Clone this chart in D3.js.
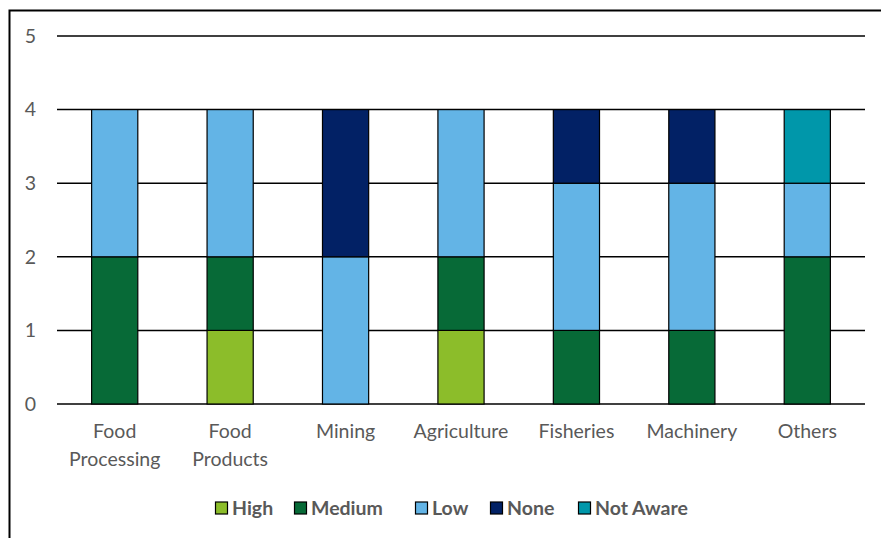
<!DOCTYPE html>
<html>
<head>
<meta charset="utf-8">
<script src="https://cdn.jsdelivr.net/npm/d3@7"></script>
<style>
  html, body { margin: 0; padding: 0; background: #fff; }
  svg { display: block; font-family: Lato, "Open Sans", sans-serif; }
</style>
</head>
<body>
<svg id="chart" width="881" height="538"></svg>
<script>
// Sectors and their response counts per awareness level
const categories = [["Food", "Processing"], ["Food", "Products"], ["Mining"], ["Agriculture"], ["Fisheries"], ["Machinery"], ["Others"]];
const seriesNames = ["High", "Medium", "Low", "None", "Not Aware"];
const high     = [0, 1, 0, 1, 0, 0, 0];
const medium   = [2, 1, 0, 1, 1, 1, 2];
const low      = [2, 2, 2, 2, 2, 2, 1];
const none     = [0, 0, 2, 0, 1, 1, 0];
const notAware = [0, 0, 0, 0, 0, 0, 1];
const yTicks = [0, 1, 2, 3, 4, 5];
const colors = ["#8cbd2a", "#076a37", "#63b4e6", "#022165", "#0097aa"];

const seriesValues = [high, medium, low, none, notAware];
const keys = categories.map(c => c.join(" "));
const rows = keys.map((k, i) => {
  const r = { key: k };
  seriesNames.forEach((s, j) => { r[s] = seriesValues[j][i]; });
  return r;
});

const svg = d3.select("#chart");
const W = 881, H = 538;
const margin = { left: 57, right: 16, top: 36, bottom: 134 };
const fontSize = 19.5;

// Outer frame
svg.append("rect")
  .attr("x", 9.5).attr("y", 10.5)
  .attr("width", W + 20).attr("height", H + 20)
  .attr("fill", "none").attr("stroke", "#000").attr("stroke-width", 2);

const x = d3.scaleBand()
  .domain(keys)
  .range([margin.left, W - margin.right])
  .paddingInner(0.6).paddingOuter(0.3);

const y = d3.scaleLinear()
  .domain([0, 5])
  .range([H - margin.bottom, margin.top]);

// Gridlines
svg.append("g")
  .selectAll("line")
  .data(yTicks)
  .join("line")
  .attr("x1", margin.left).attr("x2", W - margin.right)
  .attr("y1", d => y(d)).attr("y2", d => y(d))
  .attr("stroke", "#000").attr("stroke-width", 1.5);

// Y tick labels
svg.append("g")
  .selectAll("text")
  .data(yTicks)
  .join("text")
  .attr("x", 36).attr("y", d => y(d))
  .attr("dy", "0.35em")
  .attr("text-anchor", "end")
  .attr("fill", "#595959")
  .attr("font-size", fontSize)
  .text(d => d);

// Stacked bars
const stack = d3.stack().keys(seriesNames)(rows);
svg.append("g")
  .selectAll("g")
  .data(stack)
  .join("g")
  .attr("fill", (d, i) => colors[i])
  .selectAll("rect")
  .data(d => d.filter(p => p[1] - p[0] > 0))
  .join("rect")
  .attr("x", d => x(d.data.key))
  .attr("width", x.bandwidth())
  .attr("y", d => y(d[1]))
  .attr("height", d => y(d[0]) - y(d[1]))
  .attr("stroke", "#000").attr("stroke-width", 1.2);

// Category labels
const xl = svg.append("g")
  .selectAll("text")
  .data(categories)
  .join("text")
  .attr("x", (d, i) => x(keys[i]) + x.bandwidth() / 2)
  .attr("y", 438)
  .attr("text-anchor", "middle")
  .attr("fill", "#595959")
  .attr("font-size", fontSize);
xl.selectAll("tspan")
  .data(d => d)
  .join("tspan")
  .attr("x", function() { return this.parentNode.getAttribute("x"); })
  .attr("dy", (d, i) => i === 0 ? 0 : 28)
  .text(d => d);

// Legend
const legendX = [215, 294, 415, 490, 578];
const lg = svg.append("g")
  .selectAll("g")
  .data(seriesNames)
  .join("g")
  .attr("transform", (d, i) => `translate(${legendX[i]},508)`);
lg.append("rect")
  .attr("x", 0.5).attr("y", -6)
  .attr("width", 12).attr("height", 12)
  .attr("fill", (d, i) => colors[i])
  .attr("stroke", "#000").attr("stroke-width", 1.2);
lg.append("text")
  .attr("x", 17).attr("y", 0)
  .attr("dy", "0.35em")
  .attr("fill", "#595959")
  .attr("font-size", fontSize)
  .attr("font-weight", "bold")
  .text(d => d);
</script>
</body>
</html>
